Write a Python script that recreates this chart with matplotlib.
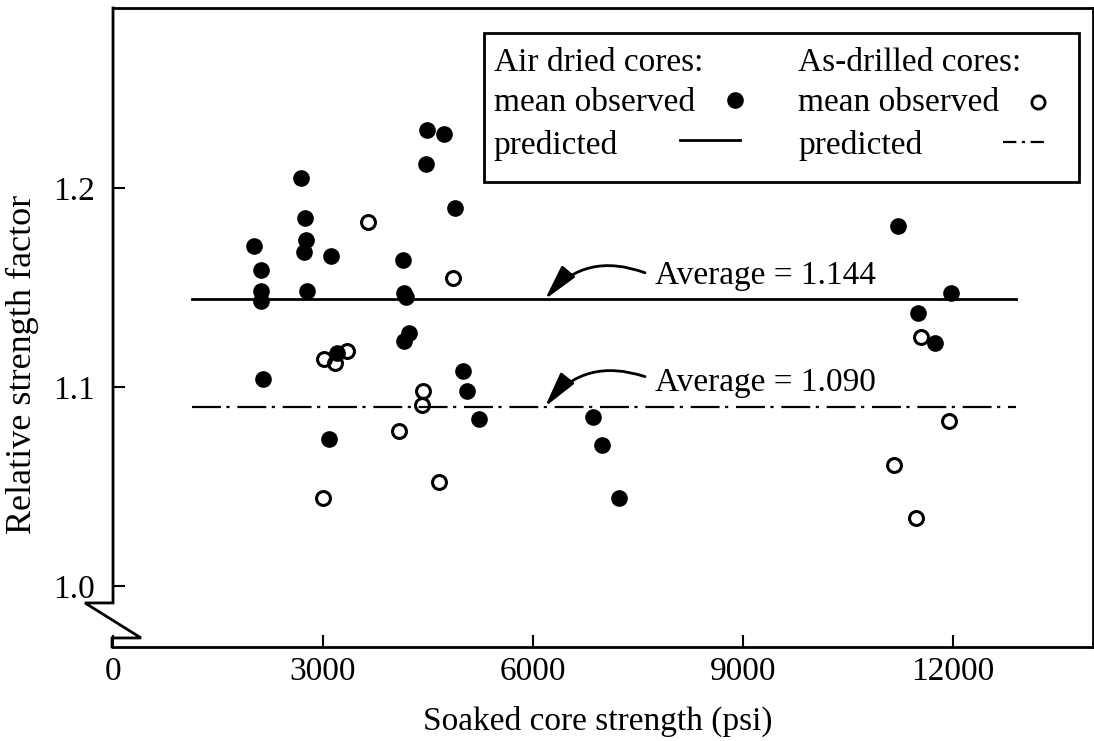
import matplotlib
matplotlib.use("Agg")
import matplotlib.pyplot as plt
from matplotlib.patches import Rectangle
from matplotlib.lines import Line2D

plt.rcParams['font.family'] = ['Liberation Serif', 'DejaVu Serif']

# air dried cores, mean observed
air_x = [2020, 2110, 2110, 2120, 2140, 2690, 2740, 2760, 2730, 2770, 3110, 3200, 3090,
         4140, 4160, 4180, 4160, 4230, 4480, 4730, 4470, 4880, 5000, 5060, 5230,
         6860, 6990, 7230, 11210, 11500, 11740, 11970]
air_y = [1.171, 1.159, 1.148, 1.143, 1.104, 1.205, 1.185, 1.174, 1.168, 1.148, 1.166, 1.117, 1.074,
         1.164, 1.147, 1.145, 1.123, 1.127, 1.229, 1.227, 1.212, 1.190, 1.108, 1.098, 1.084,
         1.085, 1.071, 1.044, 1.181, 1.137, 1.122, 1.147]

# as-drilled cores, mean observed
drill_x = [3640, 4860, 3010, 3170, 3340, 4430, 4420, 4080, 3000, 4650, 11540, 11940, 11160, 11470]
drill_y = [1.183, 1.155, 1.114, 1.112, 1.118, 1.098, 1.091, 1.078, 1.044, 1.052, 1.125, 1.083, 1.061, 1.034]

# predicted averages
pred_x = [1130, 12900]
air_avg = 1.144
drill_avg = 1.090

xticks = [0, 3000, 6000, 9000, 12000]
yticks = [1.0, 1.1, 1.2]
ytick_labels = ['1.0', '1.1', '1.2']

fig = plt.figure(figsize=(10.94, 7.41), dpi=100)
ax = fig.add_axes([0.1033, 0.1269, 0.8958, 0.8623])
ax.set_xlim(0, 14000)
ax.set_ylim(0.9693, 1.2905)

dashdot = (0, (13, 2.5, 1.4, 3.5))
ax.plot(pred_x, [air_avg, air_avg], '-', color='black', lw=2)
ax.plot(pred_x, [drill_avg, drill_avg], color='black', lw=1.6, linestyle=dashdot)
ax.plot(drill_x, drill_y, 'o', mfc='none', mec='black', ms=10, mew=2.2, zorder=3)
ax.plot(air_x, air_y, 'o', color='black', ms=12, mew=0, zorder=4)

# arrows + labels for averages
arrow = dict(arrowstyle='-|>,head_length=0.9,head_width=0.22', connectionstyle='arc3,rad=0.35',
             color='black', lw=2, shrinkA=0, shrinkB=0, mutation_scale=24)
ax.annotate('', xy=(6170, air_avg), xytext=(7600, 1.1574), arrowprops=arrow)
ax.text(7740, 1.1518, 'Average = %.3f' % air_avg, fontsize=24, va='baseline')
ax.annotate('', xy=(6170, drill_avg), xytext=(7600, 1.1052), arrowprops=arrow)
ax.text(7740, 1.098, 'Average = %.3f' % drill_avg, fontsize=24, va='baseline')

# axes frame with broken y axis
for s in ['top', 'bottom', 'right']:
    ax.spines[s].set_linewidth(2)
ax.spines['left'].set_visible(False)
ax.plot([0, 0, -0.0286, 0.0286, -0.001, -0.001], [1, 0.0689, 0.0689, 0.0141, 0.0141, 0],
        color='black', lw=2, transform=ax.transAxes, clip_on=False, solid_joinstyle='miter')

ax.set_xticks(xticks)
ax.set_xticklabels([str(v) for v in xticks])
ax.set_yticks(yticks)
ax.set_yticklabels(ytick_labels)
ax.tick_params(direction='in', length=8.6, width=1.5, labelsize=24)
ax.tick_params(axis='x', pad=7)
ax.tick_params(axis='y', pad=13)

# legend drawn by hand
tr = ax.transAxes
ax.add_patch(Rectangle((0.3786, 0.7277), 0.6071, 0.2332, transform=tr, fill=False,
                       edgecolor='black', lw=2, clip_on=False, zorder=5))
ax.text(0.3885, 0.9014, 'Air dried cores:', transform=tr, fontsize=24, va='baseline')
ax.text(0.3885, 0.8388, 'mean observed', transform=tr, fontsize=24, va='baseline')
ax.text(0.3885, 0.7715, 'predicted', transform=tr, fontsize=24, va='baseline')
ax.text(0.699, 0.9014, 'As-drilled cores:', transform=tr, fontsize=24, va='baseline')
ax.text(0.699, 0.8388, 'mean observed', transform=tr, fontsize=24, va='baseline')
ax.text(0.699, 0.7715, 'predicted', transform=tr, fontsize=24, va='baseline')
ax.add_line(Line2D([0.6342], [0.856], marker='o', color='black', ms=12, mew=0, transform=tr))
ax.add_line(Line2D([0.9439], [0.8529], marker='o', mfc='none', mec='black', ms=9.5, mew=2,
                   transform=tr))
ax.add_line(Line2D([0.5786, 0.6398], [0.7934, 0.7934], color='black', lw=2, transform=tr))
ax.add_line(Line2D([0.9082, 0.95], [0.791, 0.791], color='black', lw=1.6,
                   linestyle=(0, (6, 2.5, 1.4, 2.5)), transform=tr))

fig.text(0.0201, 0.5088, 'Relative strength factor', rotation=90, ha='center', va='center',
         fontsize=26)
fig.text(0.5466, 1 - 730 / 741, 'Soaked core strength (psi)', ha='center', va='baseline',
         fontsize=24)

fig.savefig('out.png', dpi=100)
